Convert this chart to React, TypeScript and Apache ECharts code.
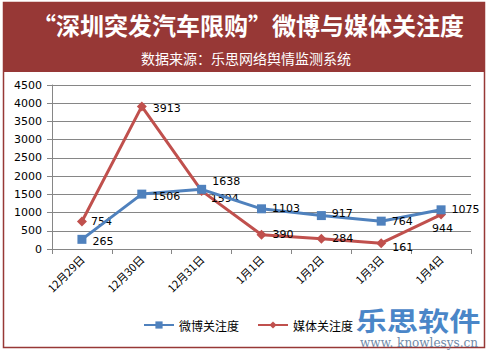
import React, { useEffect, useRef } from "react";
import * as echarts from "echarts";

const categories = ["12月29日", "12月30日", "12月31日", "1月1日", "1月2日", "1月3日", "1月4日"];
const weiboValues = [265, 1506, 1638, 1103, 917, 764, 1075];
const mediaValues = [754, 3913, 1594, 390, 284, 161, 944];
const weiboOffsets = [[0, 2], [0, 2], [0, -8], [0, 0], [0, -2], [0, 0], [0, 0]];
const mediaOffsets = [[-2, 0], [0, 2], [-2, 8], [0, 0], [0, 0], [0, 4], [-20, 14]];

export default function App() {
  const ref = useRef<HTMLDivElement>(null);
  useEffect(() => {
    const chart = echarts.init(ref.current!, undefined, { renderer: "svg" });
    const font = "DejaVu Sans";
    const cjk = "'Noto Sans CJK SC', sans-serif";
    chart.setOption({
      animation: false,
      backgroundColor: "#ffffff",
      grid: { left: 52, right: 17, top: 85, bottom: 104 },
      xAxis: {
        type: "category",
        data: categories,
        boundaryGap: true,
        axisLine: { lineStyle: { color: "#868686", width: 1 } },
        axisTick: { show: true, alignWithLabel: false, length: 5, lineStyle: { color: "#868686" } },
        axisLabel: { rotate: 45, color: "#000", fontSize: 11, fontFamily: cjk, margin: 8 },
      },
      yAxis: {
        type: "value",
        min: 0,
        max: 4500,
        interval: 500,
        axisLine: { show: true, lineStyle: { color: "#868686" } },
        axisTick: { show: true, length: 5, lineStyle: { color: "#868686" } },
        splitLine: { lineStyle: { color: "#868686", width: 1 } },
        axisLabel: { color: "#000", fontSize: 11, fontFamily: font, margin: 10, formatter: (v: number) => String(v) },
      },
      legend: {
        bottom: 17,
        left: 138,
        itemWidth: 30,
        itemHeight: 9,
        itemGap: 18,
        textStyle: { color: "#000", fontSize: 12, fontFamily: cjk },
        data: ["微博关注度", "媒体关注度"],
      },
      series: [
        {
          name: "微博关注度",
          type: "line",
          data: weiboValues.map((v, i) => ({
            value: v,
            label: { offset: weiboOffsets[i] },
          })),
          symbol: "rect",
          symbolSize: 9,
          itemStyle: { color: "#4F81BD" },
          lineStyle: { color: "#4F81BD", width: 3 },
          label: { show: true, position: "right", color: "#000", fontSize: 11, fontFamily: font, distance: 6 },
          z: 3,
        },
        {
          name: "媒体关注度",
          type: "line",
          data: mediaValues.map((v, i) => ({
            value: v,
            label: { offset: mediaOffsets[i] },
          })),
          symbol: "diamond",
          symbolSize: 10,
          itemStyle: { color: "#C0504D" },
          lineStyle: { color: "#C0504D", width: 3 },
          label: { show: true, position: "right", color: "#000", fontSize: 11, fontFamily: font, distance: 6 },
          z: 2,
        },
      ],
      graphic: [
        {
          type: "rect",
          shape: { x: 3, y: 2, width: 482, height: 70 },
          style: { fill: "#973836" },
          z: -1,
        },
        {
          type: "rect",
          shape: { x: 3.5, y: 2.5, width: 481, height: 345 },
          style: { fill: "none", stroke: "#973836", lineWidth: 1.5 },
          z: 10,
        },
        {
          type: "text",
          x: 248,
          y: 24,
          style: {
            text: "“深圳突发汽车限购”微博与媒体关注度",
            fill: "#ffffff",
            font: "bold 24px 'Noto Sans CJK SC'",
            textAlign: "center",
            textVerticalAlign: "middle",
          },
          z: 11,
        },
        {
          type: "text",
          x: 246,
          y: 58,
          style: {
            text: "数据来源：乐思网络舆情监测系统",
            fill: "#ffffff",
            font: "14px 'Noto Sans CJK SC'",
            textAlign: "center",
            textVerticalAlign: "middle",
          },
          z: 11,
        },
        {
          type: "text",
          x: 418,
          y: 320,
          scaleX: 1.2,
          style: {
            text: "乐思软件",
            fill: "#4A86C8",
            font: "bold 26px 'Noto Sans CJK SC'",
            textAlign: "center",
            textVerticalAlign: "middle",
          },
          z: 11,
        },
        {
          type: "text",
          x: 419,
          y: 343,
          style: {
            text: "www. knowlesys.cn",
            fill: "#6F8AA8",
            font: "12px 'DejaVu Serif'",
            textAlign: "center",
            textVerticalAlign: "middle",
          },
          z: 11,
        },
      ],
    });
    return () => chart.dispose();
  }, []);
  return <div ref={ref} style={{ width: 488, height: 353, position: "absolute", left: 0, top: 0 }} />;
}
